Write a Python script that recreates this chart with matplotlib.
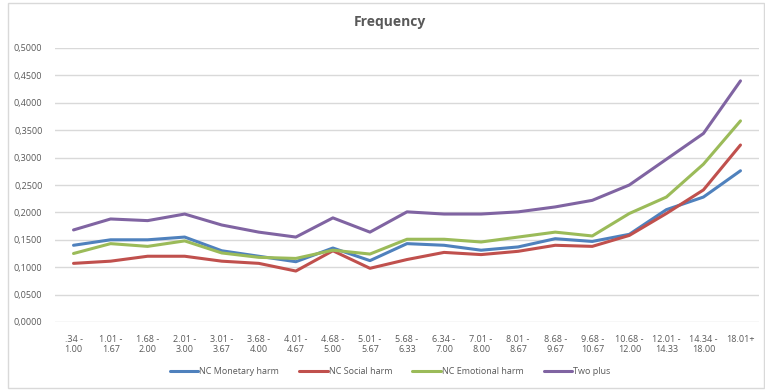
import numpy as np
import matplotlib
matplotlib.use('Agg')
import matplotlib.pyplot as plt
from matplotlib.patches import Rectangle
from matplotlib.ticker import FuncFormatter

plt.rcParams['font.family'] = ['Open Sans', 'DejaVu Sans']

categories = ['.34 -\n1.00', '1.01 -\n1.67', '1.68 -\n2.00', '2.01 -\n3.00', '3.01 -\n3.67',
              '3.68 -\n4.00', '4.01 -\n4.67', '4.68 -\n5.00', '5.01 -\n5.67', '5.68 -\n6.33',
              '6.34 -\n7.00', '7.01 -\n8.00', '8.01 -\n8.67', '8.68 -\n9.67', '9.68 -\n10.67',
              '10.68 -\n12.00', '12.01 -\n14.33', '14.34 -\n18.00', '18.01+']

monetary = [0.140, 0.150, 0.150, 0.155, 0.130, 0.120, 0.110, 0.135, 0.112, 0.143,
            0.140, 0.131, 0.137, 0.152, 0.147, 0.160, 0.205, 0.228, 0.276]
social = [0.107, 0.111, 0.120, 0.120, 0.111, 0.107, 0.093, 0.130, 0.098, 0.114,
          0.127, 0.123, 0.129, 0.140, 0.138, 0.158, 0.198, 0.241, 0.323]
emotional = [0.125, 0.143, 0.138, 0.148, 0.126, 0.118, 0.116, 0.131, 0.124, 0.151,
             0.151, 0.146, 0.155, 0.164, 0.157, 0.198, 0.228, 0.288, 0.367]
two_plus = [0.168, 0.188, 0.185, 0.197, 0.177, 0.164, 0.155, 0.190, 0.164, 0.201,
            0.197, 0.197, 0.201, 0.210, 0.222, 0.250, 0.297, 0.344, 0.440]

series = [('NC Monetary harm', monetary, '#4f81bd'),
          ('NC Social harm', social, '#c0504d'),
          ('NC Emotional harm', emotional, '#9bbb59'),
          ('Two plus', two_plus, '#8064a2')]

fig = plt.figure(figsize=(7.65, 3.9), dpi=100)
fig.patches.append(Rectangle((8/765, 2/390), 756/765, 385/390, transform=fig.transFigure,
                             fill=False, edgecolor='#d9d9d9', lw=1))
ax = fig.add_axes([55/765, 1-322/390, 704/765, 274/390])

x = np.arange(len(categories))
for name, vals, col in series:
    ax.plot(x, vals, color=col, lw=2.2, label=name, solid_capstyle='round')

ax.set_xlim(-0.5, len(categories)-0.5)
ax.set_ylim(0, 0.5)
ax.set_yticks(np.arange(0, 0.5001, 0.05))
ax.yaxis.set_major_formatter(FuncFormatter(lambda v, p: '{:.4f}'.format(v).replace('.', ',')))
ax.set_xticks(x)
ax.set_xticklabels(categories)
ax.grid(axis='y', color='#d9d9d9', lw=1)
ax.set_axisbelow(True)
for s in ax.spines.values():
    s.set_visible(False)
ax.tick_params(length=0, labelsize=6.5, colors='#595959')
ax.tick_params(axis='x', pad=9)
ax.tick_params(axis='y', pad=9)

fig.text(0.51, 1-22/390, 'Frequency', ha='center', va='center', fontsize=10,
         fontweight='bold', color='#595959')

fig.legend(loc='center', bbox_to_anchor=(0.51, 1-372/390), ncol=4, frameon=False,
           fontsize=6.5, handlelength=3.2, handletextpad=0.1, columnspacing=2.2,
           labelcolor='#595959')

fig.savefig('out.png', dpi=100)
